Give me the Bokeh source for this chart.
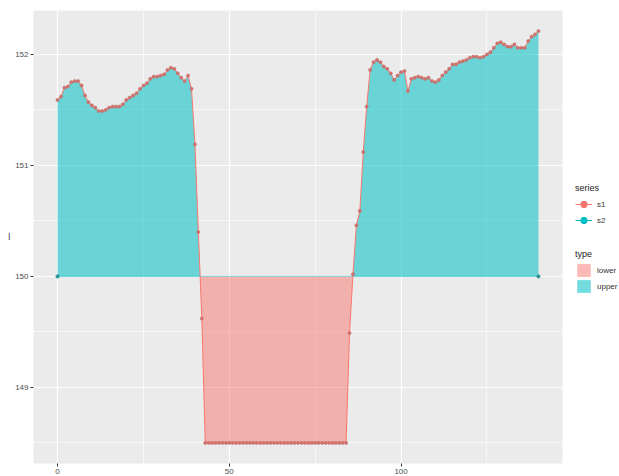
import numpy as np
from bokeh.plotting import figure
from bokeh.layouts import row
from bokeh.models import Range1d, Legend, LegendItem, FixedTicker
from bokeh.embed import file_html
from bokeh.resources import INLINE

# ---- data ----
x_vals = list(range(0, 141))
s1_vals = [
    151.59, 151.62, 151.70, 151.71, 151.75, 151.76, 151.76, 151.72, 151.63, 151.57,
    151.54, 151.52, 151.49, 151.49, 151.50, 151.52, 151.53, 151.53, 151.53, 151.55,
    151.59, 151.61, 151.63, 151.65, 151.69, 151.72, 151.74, 151.78, 151.80, 151.80,
    151.81, 151.82, 151.86, 151.88, 151.87, 151.83, 151.79, 151.76, 151.81, 151.69,
    151.19, 150.40, 149.62,
    148.5, 148.5, 148.5, 148.5, 148.5, 148.5, 148.5, 148.5, 148.5, 148.5,
    148.5, 148.5, 148.5, 148.5, 148.5, 148.5, 148.5, 148.5, 148.5, 148.5,
    148.5, 148.5, 148.5, 148.5, 148.5, 148.5, 148.5, 148.5, 148.5, 148.5,
    148.5, 148.5, 148.5, 148.5, 148.5, 148.5, 148.5, 148.5, 148.5, 148.5,
    148.5, 148.5,
    149.49, 150.02, 150.46, 150.59, 151.12, 151.53,
    151.86, 151.93, 151.95, 151.93, 151.89, 151.87, 151.83, 151.77, 151.81,
    151.84, 151.85, 151.67, 151.78, 151.79, 151.80, 151.79, 151.78, 151.79, 151.76,
    151.75, 151.77, 151.81, 151.84, 151.87, 151.91, 151.91, 151.93, 151.94, 151.95,
    151.97, 151.98, 151.98, 151.97, 151.98, 152.00, 152.02, 152.06, 152.10, 152.11,
    152.09, 152.07, 152.07, 152.09, 152.06, 152.06, 152.06, 152.12, 152.16, 152.18,
    152.21,
]
s2_x = [0, 140]
s2_vals = [150.0, 150.0]
baseline = 150.0
series_names = ["s1", "s2"]
type_names = ["lower", "upper"]
x_ticks = [0, 50, 100]
x_minor = [25, 75, 125]
y_ticks = [149, 150, 151, 152]
y_minor = [148.5, 149.5, 150.5, 151.5]

RED = "#F8766D"
TEAL = "#00BFC4"
FONT = "Liberation Sans"


def with_crossings(xs, ys, base):
    px, py = [], []
    for i in range(len(xs)):
        if i > 0:
            a, b = ys[i - 1] - base, ys[i] - base
            if a * b < 0:
                t = a / (a - b)
                px.append(xs[i - 1] + t * (xs[i] - xs[i - 1]))
                py.append(base)
        px.append(xs[i])
        py.append(ys[i])
    return np.array(px, dtype=float), np.array(py, dtype=float)


px, py = with_crossings(x_vals, s1_vals, baseline)
upper = np.maximum(py, baseline)
lower = np.minimum(py, baseline)

xmin, xmax = min(x_vals), max(x_vals)
ymin, ymax = min(s1_vals), max(s1_vals)
xpad = (xmax - xmin) * 0.05
ypad = (ymax - ymin) * 0.05

p = figure(width=564, height=476, output_backend="svg", toolbar_location=None,
           x_range=Range1d(xmin - xpad, xmax + xpad),
           y_range=Range1d(ymin - ypad, ymax + ypad),
           min_border_left=33, min_border_right=2, min_border_top=10, min_border_bottom=0)

p.background_fill_color = "#EBEBEB"
p.border_fill_color = "white"
p.outline_line_color = None

p.xaxis.ticker = FixedTicker(ticks=x_ticks, minor_ticks=x_minor)
p.yaxis.ticker = FixedTicker(ticks=y_ticks, minor_ticks=y_minor)
p.xgrid.ticker = p.xaxis.ticker
p.ygrid.ticker = p.yaxis.ticker
for g in (p.xgrid, p.ygrid):
    g.grid_line_color = "white"
    g.grid_line_width = 1.2
    g.minor_grid_line_color = "white"
    g.minor_grid_line_width = 0.6

for ax in (p.xaxis, p.yaxis):
    ax.axis_line_color = None
    ax.major_tick_line_color = "#333333"
    ax.major_tick_out = 3
    ax.major_tick_in = 0
    ax.minor_tick_out = 0
    ax.minor_tick_in = 0
    ax.major_label_text_font = FONT
    ax.major_label_text_font_size = "8px"
    ax.major_label_text_color = "#4D4D4D"
    ax.major_label_standoff = 2

p.yaxis.axis_label = "l"
p.yaxis.axis_label_orientation = "horizontal"
p.yaxis.axis_label_text_font = FONT
p.yaxis.axis_label_text_font_size = "9px"
p.yaxis.axis_label_text_font_style = "normal"
p.yaxis.axis_label_text_color = "#333333"
p.yaxis.axis_label_standoff = 2

r_upper = p.varea(x=px, y1=baseline, y2=upper, fill_color=TEAL, fill_alpha=0.55)
r_lower = p.varea(x=px, y1=lower, y2=baseline, fill_color=RED, fill_alpha=0.5)

r_s2_line = p.line(s2_x, s2_vals, line_color=TEAL, line_width=0.8, line_alpha=0.6)
r_s1_line = p.line(x_vals, s1_vals, line_color=RED, line_width=1)
r_s1_pts = p.scatter(x_vals, s1_vals, size=3.2, fill_color="#D7716B", line_color="#B86A66", line_width=0.5)
r_s2_pts = p.scatter(s2_x, s2_vals, size=3.2, fill_color="#2E9496", line_color="#2E9496")

# ---- legend panel (separate narrow figure to the right) ----
lg = figure(width=55, height=476, output_backend="svg", toolbar_location=None,
            x_range=Range1d(0, 1), y_range=Range1d(0, 1),
            min_border_left=0, min_border_right=0, min_border_top=0, min_border_bottom=0)
lg.axis.visible = False
lg.grid.visible = False
lg.outline_line_color = None
lg.background_fill_color = "white"
lg.border_fill_color = "white"

# key glyphs: same styles as the chart's marks, placed outside this panel's visible range
off = [5, 6]
k_s1_line = lg.line(off, off, line_color=RED, line_width=1)
k_s1_pts = lg.scatter(off, off, size=2.5, fill_color=RED, line_color=RED)
k_s2_line = lg.line(off, off, line_color=TEAL, line_width=1)
k_s2_pts = lg.scatter(off, off, size=2.5, fill_color=TEAL, line_color=TEAL)
k_lower = lg.varea(x=off, y1=off, y2=off, fill_color=RED, fill_alpha=0.5)
k_upper = lg.varea(x=off, y1=off, y2=off, fill_color=TEAL, fill_alpha=0.55)

leg_common = dict(
    background_fill_alpha=0, border_line_alpha=0,
    label_text_font=FONT, label_text_font_size="8px", label_text_color="#333333",
    title_text_font=FONT, title_text_font_size="9px", title_text_font_style="normal",
    title_text_color="#222222", title_standoff=3,
    glyph_width=17, glyph_height=16, spacing=0, label_standoff=5,
    label_height=16, padding=0, margin=0,
)

leg_series = Legend(items=[
    LegendItem(label=series_names[0], renderers=[k_s1_line, k_s1_pts]),
    LegendItem(label=series_names[1], renderers=[k_s2_line, k_s2_pts]),
], title="series", location=(11, 235), **leg_common)

leg_type = Legend(items=[
    LegendItem(label=type_names[0], renderers=[k_lower]),
    LegendItem(label=type_names[1], renderers=[k_upper]),
], title="type", location=(11, 169), **leg_common)

lg.add_layout(leg_series)
lg.add_layout(leg_type)

open("out.html", "w").write(file_html(row(p, lg), INLINE))
